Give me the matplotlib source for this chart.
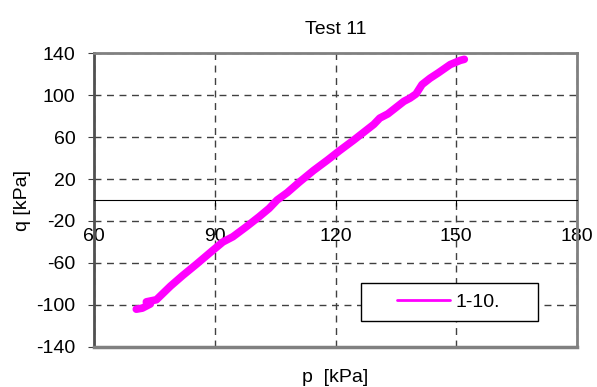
import matplotlib.pyplot as plt
from matplotlib.patches import Rectangle

plt.rcParams["font.family"] = ["Liberation Sans", "DejaVu Sans"]
plt.rcParams["axes.unicode_minus"] = False

# stress path, mean stress p and deviator q (kPa)
p_kpa = [70.5, 72, 74, 73, 75.5, 79, 82, 85.5, 89.5, 92, 94.5, 98, 101, 103.5,
         105.5, 108, 111, 114.5, 118, 121, 124.5, 127.5, 129.5, 131, 133, 135,
         137, 138.5, 140, 141.5, 143.5, 145.5, 148.5, 151, 152]
q_kpa = [-104, -103, -99, -97, -95, -82, -72, -61, -48, -40, -35, -25, -16, -8,
         0, 7, 17, 28, 38, 47, 57, 66, 72, 78, 82, 88, 94, 97, 101, 110, 116,
         121, 129, 133, 134]
series_label = "1-10."
x_ticks = [60, 90, 120, 150, 180]
y_ticks = [-140, -100, -60, -20, 20, 60, 100, 140]

fig = plt.figure(figsize=(5.97, 3.87), dpi=100)
ax = fig.add_axes([0.1575, 0.1034, 0.809, 0.7596])

ax.plot(p_kpa, q_kpa, color="#ff00ff", lw=5.5, solid_capstyle="round",
        solid_joinstyle="round", label=series_label, zorder=3)

ax.set_xlim(60, 180)
ax.set_ylim(-140, 140)
ax.set_xticks(x_ticks)
ax.set_yticks(y_ticks)

ax.grid(True, color="#404040", linestyle=(0, (5, 4)), lw=1)

# x axis runs through q = 0, frame drawn in gray
ax.spines["bottom"].set_position(("data", 0))
ax.spines["bottom"].set_color("black")
ax.spines["bottom"].set_linewidth(0.8)
for side in ["top", "right"]:
    ax.spines[side].set_color("#808080")
    ax.spines[side].set_linewidth(2)
ax.spines["left"].set_color("#505050")
ax.spines["left"].set_linewidth(2)
ax.plot([0, 1], [0, 0], transform=ax.transAxes, color="#808080", lw=2.5,
        clip_on=False, zorder=4)

ax.tick_params(axis="x", direction="out", length=4, pad=16, labelsize=14,
               color="black")
ax.tick_params(axis="y", direction="out", length=4.5, pad=9, labelsize=14,
               color="#404040")

ax.set_title("Test 11", fontsize=14, pad=14)
ax.set_xlabel("p  [kPa]", fontsize=14, labelpad=0)
ax.xaxis.set_label_coords(0.5, -0.075)
ax.set_ylabel("q [kPa]", fontsize=14)
ax.yaxis.set_label_coords(-0.13, 0.5)

# legend box with the entry set off to the right
ax.add_patch(Rectangle((0.553, 0.088), 0.366, 0.13, transform=ax.transAxes,
                       facecolor="white", edgecolor="black", lw=1, zorder=5))
leg = ax.legend(loc="center left", bbox_to_anchor=(0.627, 0.153),
                fontsize=14, frameon=False, borderaxespad=0, borderpad=0,
                handlelength=2.73, handletextpad=0.28)
leg.get_lines()[0].set_linewidth(2)
leg.set_zorder(6)

fig.savefig("out.png", dpi=100)
